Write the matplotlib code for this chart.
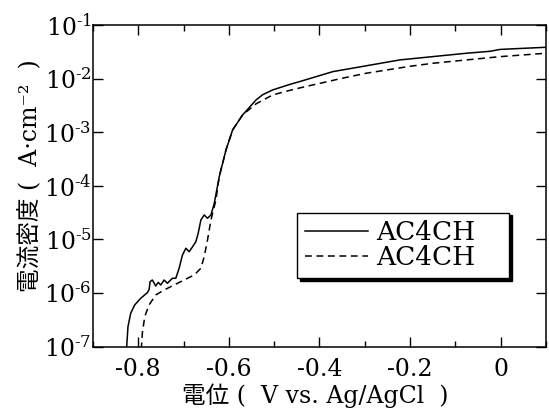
import matplotlib
matplotlib.use("Agg")
import matplotlib.pyplot as plt
import matplotlib.ticker as ticker
import numpy as np

plt.rcParams['font.family'] = ['DejaVu Serif', 'Noto Sans CJK JP']
plt.rcParams['mathtext.fontset'] = 'dejavuserif'
plt.rcParams['axes.unicode_minus'] = False

# potential (V vs. Ag/AgCl) and log10 of current density (A cm-2)
solid_v = [-0.826, -0.8228, -0.8168, -0.808, -0.7947, -0.780, -0.776, -0.774, -0.769,
           -0.7615, -0.756, -0.7504, -0.743, -0.7358, -0.7247, -0.7172, -0.7099, -0.7025,
           -0.695, -0.6877, -0.680, -0.6729, -0.6678, -0.6618, -0.6545, -0.6472, -0.6396,
           -0.6323, -0.6268, -0.6213, -0.6064, -0.5918, -0.5697, -0.540, -0.5254, -0.5032,
           -0.4662, -0.444, -0.3703, -0.2226, -0.0749, -0.0233, -0.0012, 0.1008]
solid_log = [-7.05, -6.627, -6.377, -6.222, -6.097, -5.993, -5.93, -5.787, -5.756,
             -5.868, -5.80, -5.849, -5.756, -5.817, -5.724, -5.724, -5.537, -5.289,
             -5.164, -5.228, -5.134, -5.041, -4.884, -4.636, -4.543, -4.604, -4.543,
             -4.325, -4.076, -3.828, -3.330, -2.957, -2.677, -2.397, -2.30, -2.21,
             -2.11, -2.056, -1.869, -1.651, -1.526, -1.49, -1.455, -1.415]

dash_v = [-0.7934, -0.7911, -0.7858, -0.7763, -0.7615, -0.743, -0.7209, -0.6988, -0.6766,
          -0.6618, -0.6545, -0.6472, -0.6396, -0.6286, -0.6213, -0.6064, -0.5918, -0.5697,
          -0.540, -0.5032, -0.4662, -0.4368, -0.3482, -0.2964, -0.2004, -0.1489, -0.074,
          -0.0012, 0.1008]
dash_log = [-7.05, -6.75, -6.44, -6.222, -6.035, -5.942, -5.849, -5.756, -5.662,
            -5.537, -5.321, -5.009, -4.636, -4.263, -3.828, -3.330, -2.957, -2.677,
            -2.47, -2.304, -2.22, -2.16, -1.99, -1.899, -1.77, -1.713, -1.65,
            -1.590, -1.526]

labels = ['AC4CH', 'AC4CH']
x_ticks = [-0.8, -0.6, -0.4, -0.2, 0]
x_tick_labels = ['-0.8', '-0.6', '-0.4', '-0.2', '0']
y_exps = [-7, -6, -5, -4, -3, -2, -1]

fig = plt.figure(figsize=(5.49, 4.12), dpi=100)
ax = fig.add_axes([0.1694, 0.1585, 0.8251, 0.7808])

ax.plot(solid_v, 10.0 ** np.array(solid_log), color='black', lw=1.1, label=labels[0])
ax.plot(dash_v, 10.0 ** np.array(dash_log), color='black', lw=1.1,
        dashes=(4.5, 3), label=labels[1])

ax.set_yscale('log')
ax.set_xlim(-0.9, 0.1)
ax.set_ylim(1e-7, 1e-1)

ax.set_xticks(x_ticks)
ax.set_xticklabels(x_tick_labels)
ax.xaxis.set_minor_locator(ticker.MultipleLocator(0.1))
ax.set_yticks([10.0 ** e for e in y_exps])
ax.set_yticklabels([r'$\mathregular{10^{\text{-}%d}}$' % -e for e in y_exps])
ax.yaxis.set_minor_locator(ticker.NullLocator())

ax.tick_params(which='both', direction='in', top=True, right=True, width=1.0)
ax.tick_params(which='major', length=7.5, labelsize=17)
ax.tick_params(which='minor', length=4)
ax.tick_params(axis='x', pad=8)
ax.tick_params(axis='y', pad=1)
for s in ax.spines.values():
    s.set_linewidth(1.1)

leg = ax.legend(loc='upper left', bbox_to_anchor=(0.45, 0.204, 0.468, 0.213),
                mode='expand', fontsize=19,
                fancybox=False, shadow={'color': 'black', 'alpha': 1},
                edgecolor='black', framealpha=1, handlelength=2.4,
                borderpad=0.3, labelspacing=0.0, handletextpad=0.3, borderaxespad=0)
leg.get_frame().set_linewidth(1.0)

fig.text(30 / 549, 1 - 176 / 412, '電流密度 (  A·cm⁻²  )', rotation=90,
         ha='center', va='center', fontsize=17)
fig.text(315 / 549, 1 - 396 / 412, '電位 (  V vs. Ag/AgCl  )',
         ha='center', va='center', fontsize=17)

fig.savefig('out.png', dpi=100)
